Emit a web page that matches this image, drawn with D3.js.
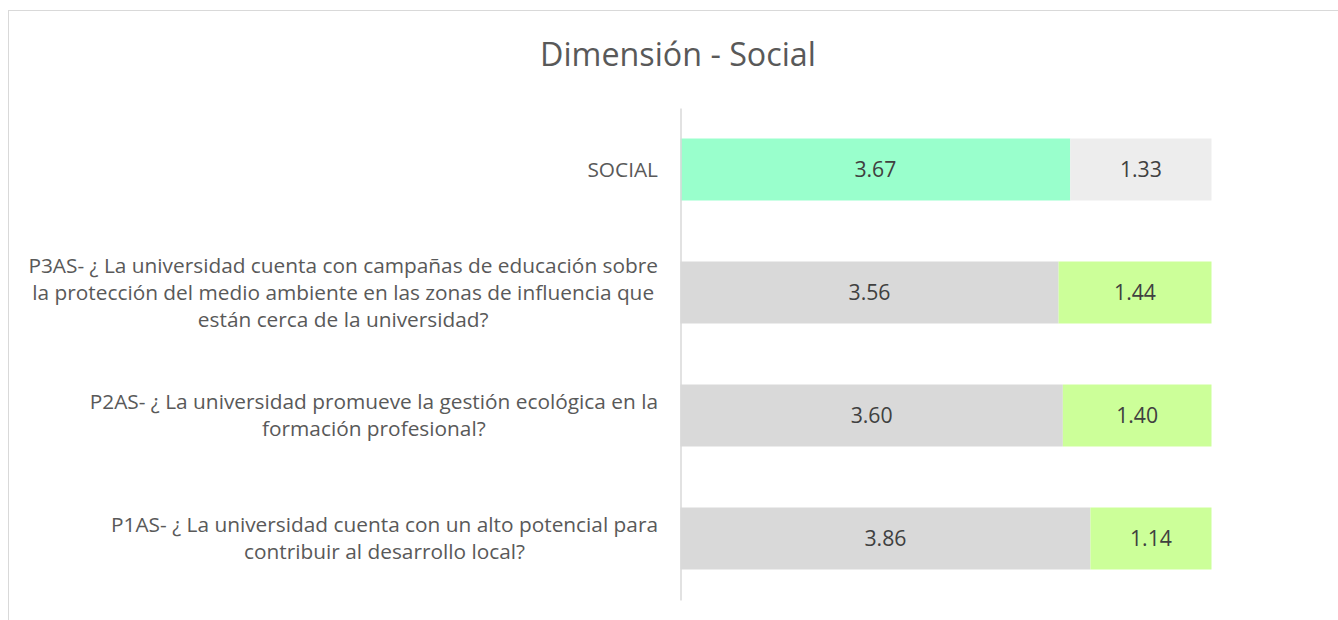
<!DOCTYPE html>
<html><head><meta charset="utf-8">
<script src="https://cdn.jsdelivr.net/npm/d3@7"></script>
<style>html,body{margin:0;padding:0;background:#fff;}svg{display:block;}</style>
</head><body>
<svg id="c" width="1338" height="620"></svg>
<script>
const categories = ["SOCIAL", "P3AS", "P2AS", "P1AS"];
const labelLines = [
  ["SOCIAL"],
  ["P3AS- ¿ La universidad cuenta con campañas de educación sobre",
   "la protección del medio ambiente en las zonas de influencia que",
   "están cerca de la universidad?"],
  ["P2AS- ¿ La universidad promueve la gestión ecológica en la",
   "formación profesional?"],
  ["P1AS- ¿ La universidad cuenta con un alto potencial para",
   "contribuir al desarrollo local?"]
];
const valuesA = [3.67, 3.56, 3.60, 3.86];
const valuesB = [1.33, 1.44, 1.40, 1.14];
const colorsA = ["#99FFCC", "#D9D9D9", "#D9D9D9", "#D9D9D9"];
const colorsB = ["#EDEDED", "#CCFF99", "#CCFF99", "#CCFF99"];
const title = "Dimensión - Social";

const svg = d3.select("#c");
const font = "'Open Sans', Lato, sans-serif";
const txt = "#595959";

svg.append("rect").attr("x", 8.5).attr("y", 10.5).attr("width", 1340).attr("height", 620)
  .attr("fill", "#fff").attr("stroke", "#D9D9D9").attr("stroke-width", 1);

const tt = svg.append("text").attr("x", 678).attr("y", 66).attr("text-anchor", "middle")
  .attr("font-family", font).attr("font-size", 28).attr("fill", txt).text(title);
{ const w = tt.node().getComputedTextLength(); tt.attr("font-size", 28 * 276 / w); }

const x = d3.scaleLinear().domain([0, 5]).range([680.5, 1211.5]);
const y = d3.scaleBand().domain(categories).range([108, 600])
  .paddingInner(0.496).paddingOuter(0.248);

const g = svg.append("g");
const probe = svg.append("text").attr("font-family", font).attr("font-size", 19).text("3.67");
const vSize = 19 * 42 / probe.node().getComputedTextLength();
probe.remove();

categories.forEach((c, i) => {
  const a = valuesA[i], b = valuesB[i];
  g.append("rect").attr("x", x(0)).attr("y", y(c)).attr("width", x(a) - x(0))
    .attr("height", y.bandwidth()).attr("fill", colorsA[i]);
  g.append("rect").attr("x", x(a)).attr("y", y(c)).attr("width", x(a + b) - x(a))
    .attr("height", y.bandwidth()).attr("fill", colorsB[i]);
  const cy = y(c) + y.bandwidth() / 2;
  g.append("text").attr("x", (x(0) + x(a)) / 2).attr("y", cy).attr("dy", "0.35em")
    .attr("text-anchor", "middle").attr("font-family", font).attr("font-size", vSize)
    .attr("fill", "#404040").text(a.toFixed(2));
  g.append("text").attr("x", (x(a) + x(a + b)) / 2).attr("y", cy).attr("dy", "0.35em")
    .attr("text-anchor", "middle").attr("font-family", font).attr("font-size", vSize)
    .attr("fill", "#404040").text(b.toFixed(2));
});

const yAxis = d3.axisLeft(y).tickSize(0).tickFormat("");
const ax = svg.append("g").attr("transform", "translate(680.5,0)").call(yAxis);
ax.select(".domain").attr("stroke", "#D9D9D9").attr("stroke-width", 1.5);

const lh = 27;
const probe2 = svg.append("text").attr("font-family", font).attr("font-size", 19).text(labelLines[1][0]);
const lSize = 19 * 630 / probe2.node().getComputedTextLength();
probe2.remove();
categories.forEach((c, i) => {
  const lines = labelLines[i];
  const cy = y(c) + y.bandwidth() / 2;
  const t = svg.append("text").attr("font-family", font).attr("font-size", lSize)
    .attr("fill", txt).attr("text-anchor", "middle");
  const spans = lines.map((l, k) => t.append("tspan").text(l));
  const w = d3.max(spans, s => s.node().getComputedTextLength());
  const cx = 658 - w / 2;
  const y0 = cy - (lines.length - 1) * lh / 2;
  spans.forEach((s, k) => s.attr("x", cx).attr("y", y0 + k * lh).attr("dy", "0.35em"));
});
</script>
</body></html>
